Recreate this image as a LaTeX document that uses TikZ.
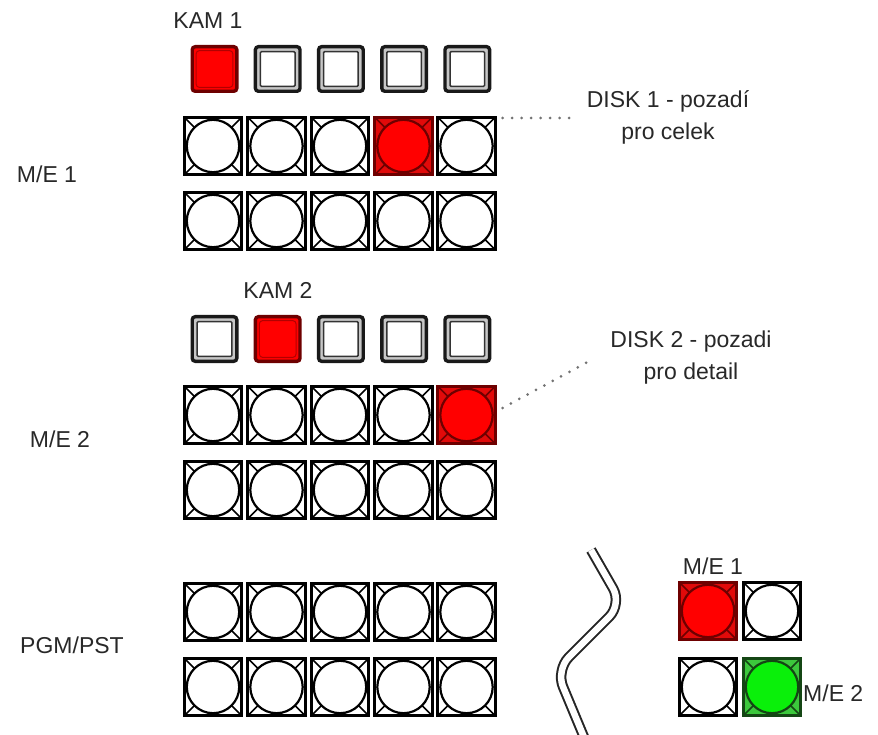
\documentclass[tikz,border=0pt]{standalone}
\usepackage{fontspec}
\setmainfont{Liberation Sans}
\definecolor{keyred}{RGB}{255,0,0}
\definecolor{rededge}{RGB}{110,0,0}
\definecolor{redsq}{RGB}{225,10,10}
\definecolor{grnsq}{RGB}{60,200,60}
\definecolor{grncirc}{RGB}{10,240,10}
\definecolor{grnedge}{RGB}{20,70,20}
\definecolor{txt}{RGB}{40,40,40}
\begin{document}
\begin{tikzpicture}[x=1pt,y=1pt]
\tikzset{
  lbl/.style={font=\fontsize{23}{32}\selectfont, text=txt, inner sep=0pt, align=center},
  % square selector key with a double rim
  keyoff/.style={draw=black!90, line width=3.4pt, rounded corners=3pt, minimum size=44.6pt,
    inner sep=0pt, fill=black!22,
    path picture={\draw[line width=1.5pt, black!80, fill=white, rounded corners=1pt]
      ([shift={(5pt,5pt)}]path picture bounding box.south west) rectangle
      ([shift={(-5pt,-5pt)}]path picture bounding box.north east);}},
  keyon/.style={keyoff, fill=keyred, draw=rededge,
    path picture={\draw[line width=1pt, red!70!black]
      ([shift={(4pt,4pt)}]path picture bounding box.south west) rectangle
      ([shift={(-4pt,-4pt)}]path picture bounding box.north east);}},
  % round push button inside a square, corners marked by diagonals
  btn/.style n args={3}{draw=#3, line width=2.8pt, minimum size=57.3pt, inner sep=0pt,
    fill=#1,
    path picture={
      \draw[line width=1.6pt, #3]
        (path picture bounding box.south west) -- (path picture bounding box.north east)
        (path picture bounding box.north west) -- (path picture bounding box.south east);
      \draw[line width=2.2pt, draw=#3, fill=#2] (path picture bounding box.center) circle (26.2pt);
    }},
  btnoff/.style={btn={white}{white}{black}},
  btnred/.style={btn={redsq}{keyred}{rededge}},
  btngreen/.style={btn={grnsq}{grncirc}{grnedge}},
  dots/.style={draw=black!55, line width=3pt, line cap=round, dash pattern=on 0pt off 9.5pt},
  wave/.style={draw=black!85, line width=2pt, double=white, double distance=6.5pt,
    rounded corners=18pt}
}
\useasboundingbox (0,0) rectangle (878,-735);

% M/E 1 bank
\node[lbl] (kam1) at (208,-21) {KAM 1};
\foreach \i/\x/\s in {1/214.5/keyon,2/277.7/keyoff,3/340.9/keyoff,4/404.1/keyoff,5/467.3/keyoff}
  \node[\s] (ka\i) at (\x,-69) {};
\foreach \i/\x/\s in {1/213/btnoff,2/276.5/btnoff,3/340/btnoff,4/403.5/btnred,5/466.5/btnoff}
  \node[\s] (a\i) at (\x,-146) {};
\foreach \i/\x in {1/213,2/276.5,3/340,4/403.5,5/466.5}
  \node[btnoff] (b\i) at (\x,-221) {};
\node[lbl] (me1) at (47,-174) {M/E 1};

% M/E 2 bank
\node[lbl] (kam2) at (278,-290) {KAM 2};
\foreach \i/\x/\s in {1/214.5/keyoff,2/277.7/keyon,3/340.9/keyoff,4/404.1/keyoff,5/467.3/keyoff}
  \node[\s] (kb\i) at (\x,-339) {};
\foreach \i/\x/\s in {1/213/btnoff,2/276.5/btnoff,3/340/btnoff,4/403.5/btnoff,5/466.5/btnred}
  \node[\s] (c\i) at (\x,-415) {};
\foreach \i/\x in {1/213,2/276.5,3/340,4/403.5,5/466.5}
  \node[btnoff] (d\i) at (\x,-490) {};
\node[lbl] (me2) at (60,-439) {M/E 2};

% program / preset bank
\foreach \i/\x in {1/213,2/276.5,3/340,4/403.5,5/466.5}
  \node[btnoff] (e\i) at (\x,-612) {};
\foreach \i/\x in {1/213,2/276.5,3/340,4/403.5,5/466.5}
  \node[btnoff] (f\i) at (\x,-687) {};
\node[lbl] (pgm) at (72,-645) {PGM/PST};

% background discs
\node[lbl] (disk1) at (668,-117) {DISK 1 - pozadí\\pro celek};
\node[lbl] (disk2) at (691,-358) {DISK 2 - pozadi\\pro detail};
\coordinate (d1end) at ([xshift=-16pt,yshift=-1pt]disk1.west);
\coordinate (d2end) at ([xshift=-17pt,yshift=-1pt]disk2.west);
\draw[dots] ([xshift=6pt]a5.east |- d1end) -- (d1end);
\draw[dots] ([xshift=6pt,yshift=7pt]c5.east) -- (d2end);

% break mark
\draw[wave] (591,-550) -- (622,-604) -- (556,-670) -- (586,-742);

% detail: keyer buttons
\node[btnred] (p1) at (708,-611) {};
\node[btnoff] (p2) at (772,-611) {};
\node[btnoff] (p3) at (708,-687) {};
\node[btngreen] (p4) at (772,-687) {};
\node[lbl] (pme1) at (713,-566) {M/E 1};
\node[lbl, anchor=west] (pme2) at (803,-693) {M/E 2};
\end{tikzpicture}
\end{document}
